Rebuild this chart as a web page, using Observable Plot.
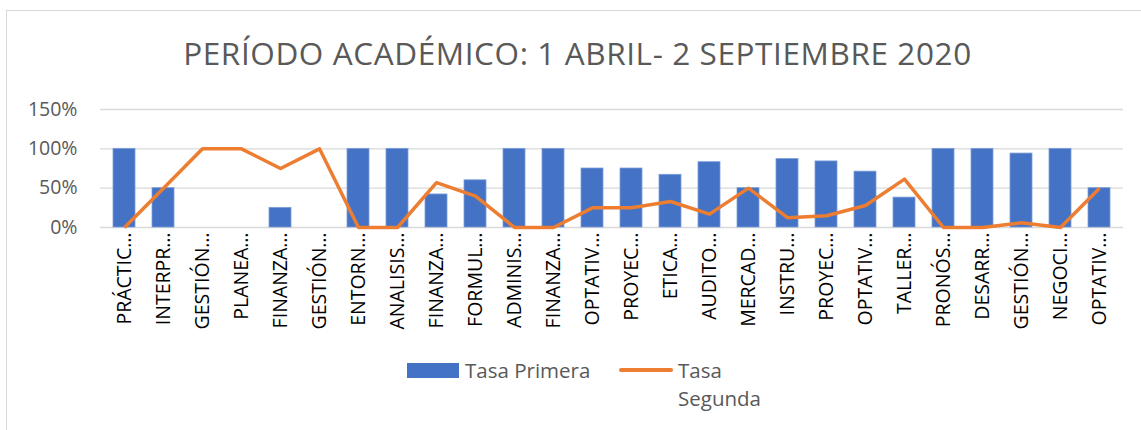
<!DOCTYPE html>
<html>
<head>
<meta charset="utf-8">
<script src="https://cdn.jsdelivr.net/npm/d3@7"></script>
<script src="https://cdn.jsdelivr.net/npm/@observablehq/plot@0.6"></script>
<style>
  html, body { margin: 0; padding: 0; background: #fff; width: 1141px; height: 430px; overflow: hidden; font-family: "Open Sans", sans-serif; }
  #frame { position: absolute; left: 6px; top: 10px; width: 1300px; height: 600px; border: 1px solid #d9d9d9; box-sizing: border-box; }
  #title { position: absolute; left: 0; width: 1155px; top: 33px; text-align: center; font-size: 31.5px; letter-spacing: 0.6px; color: #595959; white-space: nowrap; line-height: 40px; }
  #chart { position: absolute; left: 0; top: 90px; }
  .leg { position: absolute; font-size: 20.5px; color: #595959; line-height: 28px; }
</style>
</head>
<body>
<div id="frame"></div>
<div id="title">PERÍODO ACADÉMICO: 1 ABRIL- 2 SEPTIEMBRE 2020</div>
<div id="chart"></div>
<div class="leg" style="left:407px; top:363px; width:52px; height:15px; background:#4472C4;"></div>
<div class="leg" style="left:465px; top:356px;">Tasa Primera</div>
<div class="leg" style="left:619px; top:368px; width:54px; height:3.5px; background:#ED7D31; border-radius:2px;"></div>
<div class="leg" style="left:678px; top:356px;">Tasa<br>Segunda</div>
<script>
const categories = ["PRÁCTIC…","INTERPR…","GESTIÓN…","PLANEA…","FINANZA…","GESTIÓN…","ENTORN…","ANALISIS…","FINANZA…","FORMUL…","ADMINIS…","FINANZA…","OPTATIV…","PROYEC…","ETICA…","AUDITO…","MERCAD…","INSTRU…","PROYEC…","OPTATIV…","TALLER…","PRONÓS…","DESARR…","GESTIÓN…","NEGOCI…","OPTATIV…"];
const tasaPrimera = [1.00,0.50,0,0,0.25,0,1.00,1.00,0.42,0.60,1.00,1.00,0.75,0.75,0.67,0.83,0.50,0.87,0.84,0.71,0.38,1.00,1.00,0.94,1.00,0.50];
const tasaSegunda = [0,0.50,1.00,1.00,0.75,1.00,0,0,0.57,0.40,0,0,0.25,0.25,0.33,0.17,0.50,0.125,0.15,0.28,0.615,0,0,0.06,0,0.50];
const yTicks = [0, 0.5, 1, 1.5];

const data = categories.map((c, i) => ({key: i, label: c, a: tasaPrimera[i], b: tasaSegunda[i]}));

const chart = Plot.plot({
  width: 1141,
  height: 260,
  marginLeft: 100,
  marginRight: 18,
  marginTop: 19,
  marginBottom: 123,
  style: {background: "transparent", fontFamily: "Open Sans, sans-serif", overflow: "visible"},
  x: {type: "band", domain: data.map(d => d.key), paddingInner: 0.44, paddingOuter: 0.22, label: null},
  y: {domain: [0, 1.5], label: null},
  marks: [
    Plot.ruleY(yTicks, {stroke: "#d9d9d9", strokeWidth: 1.3}),
    Plot.barY(data, {x: "key", y: "a", fill: "#4472C4", stroke: "#7f9fd8", strokeWidth: 0.8}),
    Plot.line(data, {x: "key", y: "b", stroke: "#ED7D31", strokeWidth: 3.5, strokeLinejoin: "round", strokeLinecap: "butt"}),
    Plot.axisY({ticks: yTicks, tickFormat: d3.format(".0%"), tickSize: 0, tickPadding: 23, fontSize: 19.5, fill: "#595959", label: null}),
    Plot.axisX({tickSize: 0, tickPadding: 5, tickRotate: -90, fontSize: 19.5, fill: "#000", tickFormat: k => categories[k], label: null})
  ]
});
document.getElementById("chart").appendChild(chart);
</script>
</body>
</html>
